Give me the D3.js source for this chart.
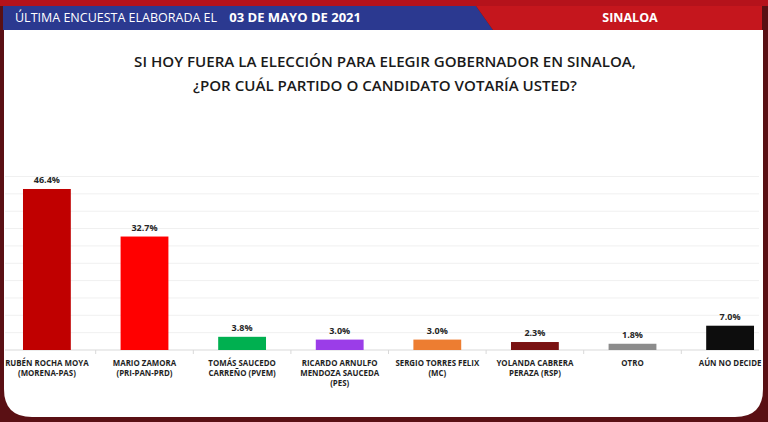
<!doctype html>
<html>
<head>
<meta charset="utf-8">
<script src="https://cdnjs.cloudflare.com/ajax/libs/d3/7.8.5/d3.min.js"></script>
<style>
body { margin: 0; background: #5a1014; }
svg { display: block; font-family: "Open Sans", sans-serif; }
.val { font-size: 9px; font-weight: 700; fill: #262626; text-anchor: middle; }
.cat { font-size: 7.9px; font-weight: 700; fill: #1f1f1f; text-anchor: middle; }
.title { font-size: 15.1px; font-weight: 600; fill: #1a1a1a; text-anchor: middle; }
.banner { font-size: 12.5px; fill: #fff; }
.grid line { stroke: #f0f0f0; stroke-width: 1px; }
</style>
</head>
<body>
<svg width="768" height="422"></svg>
<script>
var candidates = [
  ["RUBÉN ROCHA MOYA", "(MORENA-PAS)"],
  ["MARIO ZAMORA", "(PRI-PAN-PRD)"],
  ["TOMÁS SAUCEDO", "CARREÑO (PVEM)"],
  ["RICARDO ARNULFO", "MENDOZA SAUCEDA", "(PES)"],
  ["SERGIO TORRES FELIX", "(MC)"],
  ["YOLANDA CABRERA", "PERAZA (RSP)"],
  ["OTRO"],
  ["AÚN NO DECIDE"]
]
var votes = [46.4, 32.7, 3.8, 3.0, 3.0, 2.3, 1.8, 7.0]
var barColors = ["#c00000", "#ff0000", "#00b050", "#9b3de8", "#ed7d31", "#7a1212", "#8c8c8c", "#0d0d0d"]
var gridTicks = [5, 10, 15, 20, 25, 30, 35, 40, 45, 50]

var svg = d3.select("svg")

// frame
svg.append("rect").attr("width", 768).attr("height", 422).attr("fill", "#5a1014")
svg.append("rect").attr("x", 0).attr("y", 0).attr("width", 768).attr("height", 6).attr("fill", "#b5121b")
svg.append("path")
  .attr("d", "M4,30 H763 V389 Q763,417 735,417 H32 Q4,417 4,389 Z")
  .attr("fill", "#fff")

// banner
svg.append("path").attr("d", "M3,6 H476 L493,30 H3 Z").attr("fill", "#2b3990")
svg.append("path").attr("d", "M476,6 H762 V30 H493 Z").attr("fill", "#c5161d")
var bt = svg.append("text").attr("class", "banner").attr("x", 15).attr("y", 22)
bt.append("tspan").text("ÚLTIMA ENCUESTA ELABORADA EL ")
bt.append("tspan").attr("dx", 9).style("font-weight", 700).style("font-size", "13px").text("03 DE MAYO DE 2021")
svg.append("text").attr("class", "banner").attr("x", 630).attr("y", 22)
  .style("font-weight", 700).style("text-anchor", "middle").text("SINALOA")

// title
svg.append("text").attr("class", "title").attr("x", 385).attr("y", 67)
  .text("SI HOY FUERA LA ELECCIÓN PARA ELEGIR GOBERNADOR EN SINALOA,")
svg.append("text").attr("class", "title").attr("x", 385).attr("y", 91)
  .text("¿POR CUÁL PARTIDO O CANDIDATO VOTARÍA USTED?")

// scales
var x = d3.scaleBand()
  .domain(d3.range(votes.length))
  .range([-1.9, 778.9])
  .paddingInner(0.51)
  .paddingOuter(0.255)
var y = d3.scaleLinear().domain([0, 50]).range([350, 176.5])

svg.append("g").attr("class", "grid")
  .selectAll("line").data(gridTicks).enter().append("line")
  .attr("x1", 5).attr("x2", 759)
  .attr("y1", d => y(d)).attr("y2", d => y(d))

// axis
var step = x.step()
svg.append("line").attr("x1", 5).attr("x2", 759).attr("y1", y(0)).attr("y2", y(0))
  .attr("stroke", "#d9d9d9")
svg.append("g").selectAll("line").data(d3.range(1, votes.length)).enter().append("line")
  .attr("x1", d => x(d) - (step - x.bandwidth()) / 2)
  .attr("x2", d => x(d) - (step - x.bandwidth()) / 2)
  .attr("y1", y(0)).attr("y2", y(0) + 4)
  .attr("stroke", "#d9d9d9")

// bars
svg.append("g").selectAll("rect").data(votes).enter().append("rect")
  .attr("x", (d, i) => x(i))
  .attr("width", x.bandwidth())
  .attr("y", d => y(d))
  .attr("height", d => y(0) - y(d))
  .attr("fill", (d, i) => barColors[i])

svg.append("g").selectAll("text").data(votes).enter().append("text")
  .attr("class", "val")
  .attr("x", (d, i) => x(i) + x.bandwidth() / 2)
  .attr("y", d => y(d) - 6)
  .text(d => d.toFixed(1) + "%")

// category labels
var cats = svg.append("g").selectAll("text").data(candidates).enter().append("text")
  .attr("class", "cat")
  .attr("x", (d, i) => x(i) + x.bandwidth() / 2)
  .attr("y", 365.5)
cats.selectAll("tspan").data(d => d).enter().append("tspan")
  .attr("x", function () { return d3.select(this.parentNode).attr("x") })
  .attr("dy", (d, i) => i ? 10.3 : 0)
  .text(d => d)
</script>
</body>
</html>
